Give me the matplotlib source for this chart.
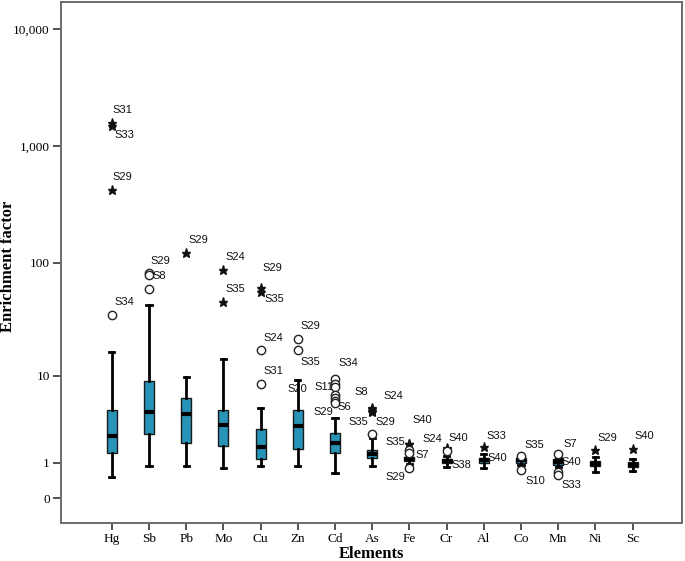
import numpy as np
import matplotlib
matplotlib.use("Agg")
import matplotlib.pyplot as plt

# ---- data ----
elements = ['Hg', 'Sb', 'Pb', 'Mo', 'Cu', 'Zn', 'Cd', 'As', 'Fe', 'Cr', 'Al', 'Co', 'Mn', 'Ni', 'Sc']
whislo = [0.52, 0.88, 0.88, 0.82, 0.86, 0.86, 0.63, 0.89, 0.96, 0.83, 0.81, 0.93, 0.83, 0.68, 0.69]
q1     = [1.43, 2.50, 1.96, 1.76, 1.14, 1.64, 1.43, 1.18, 1.05, 0.98, 0.97, 1.00, 0.93, 0.87, 0.855]
med    = [2.39, 4.39, 4.18, 3.23, 1.71, 3.07, 1.92, 1.38, 1.13, 1.06, 1.09, 1.09, 1.02, 0.96, 0.93]
q3     = [4.60, 8.85, 6.10, 4.60, 2.86, 4.65, 2.59, 1.58, 1.23, 1.16, 1.21, 1.19, 1.13, 1.05, 1.02]
whishi = [16.7, 42.8, 9.70, 14.2, 4.83, 9.18, 3.79, 2.22, 1.35, 1.30, 1.35, 1.26, 1.19, 1.23, 1.16]

# outliers: element, value, kind ('o' mild, '*' extreme, '' hidden), case label
out_elem = ['Hg', 'Hg', 'Hg', 'Hg', 'Sb', 'Sb', 'Sb', 'Pb', 'Mo', 'Mo', 'Cu', 'Cu', 'Cu', 'Cu',
            'Zn', 'Zn', 'Zn', 'Cd', 'Cd', 'Cd', 'Cd', 'Cd', 'Cd', 'Cd', 'As', 'As', 'As', 'As', 'As',
            'Fe', 'Fe', 'Fe', 'Fe', 'Fe', 'Cr', 'Cr', 'Cr', 'Cr', 'Al', 'Al', 'Co', 'Co',
            'Mn', 'Mn', 'Mn', 'Mn', 'Ni', 'Sc']
out_val = [1560, 1480, 418, 35.5, 81, 79, 60, 121, 86.5, 45.7, 60.9, 55.8, 17.2, 8.41,
           21.6, 17.2, 9.3, 9.38, 8.41, 7.80, 6.58, 6.09, 5.65, 5.5, 4.9, 4.76, 4.5, 4.39, 2.51,
           1.90, 1.88, 1.58, 1.41, 0.795, 1.66, 1.64, 1.51, 1.09, 1.71, 1.20, 1.30, 0.716,
           1.38, 1.02, 0.68, 0.586, 1.59, 1.63]
out_kind = ['*', '*', '*', 'o', 'o', 'o', 'o', '*', '*', '*', '*', '*', 'o', 'o',
            'o', 'o', '', 'o', 'o', 'o', 'o', 'o', 'o', 'o', '*', '*', '*', '*', 'o',
            '*', '*', 'o', 'o', 'o', '*', '*', 'o', '', '*', '', 'o', 'o',
            'o', '', 'o', 'o', '*', '*']
out_label = ['S31', 'S33', 'S29', 'S34', 'S29', 'S8', '', 'S29', 'S24', 'S35', 'S29', 'S35', 'S24', 'S31',
             'S29', 'S35', 'S20', 'S34', 'S11', '', '', '', 'S6', 'S29', 'S8', 'S24', 'S35', 'S29', '',
             'S40', 'S35', '', 'S7', 'S29', 'S24', 'S40', '', 'S38', 'S33', 'S40', 'S35', 'S10',
             'S7', 'S40', '', 'S33', 'S29', 'S40']

# label placement (pixel offsets from the marker, alignment)
lab_dx = [1, 3, 1, 3, 2, 4, 0, 2, 2, 2, 2, 4, 3, 3,
          3, 3, 0, 4, -1, 0, 0, 0, 3, -2, -4, 11, -4, 3, 0,
          3, -4, 0, 6, -4, -4, 2, 0, 5, 3, 4, 3, 4,
          5, 3, 0, 3, 2, 2]
lab_dy = [13, -9, 13, 13, 12, -1, 0, 13, 13, 13, 20, -7, 12, 13,
          13, -12, -10, 16, -3, 0, 0, 0, -6, -9, 16, 13, -11, -10, 0,
          24, 2, 0, -2, -9, 9, 11, 0, -5, 11, 0, 11, -11,
          10, 0, 0, -10, 12, 13]
lab_ha = ['left'] * len(out_label)
for i in [16]:
    lab_ha[i] = 'center'
for i in [18, 23, 24, 26, 30, 33, 34]:
    lab_ha[i] = 'right'

yticks = [0, 1, 10, 100, 1000, 10000]
ytick_labels = ['0', '1', '10', '100', '1,000', '10,000']

# ---- figure ----
fig = plt.figure(figsize=(6.85, 5.61), dpi=100)
ax = fig.add_axes([61 / 685, 38 / 561, (681.7 - 61) / 685, (523 - 2) / 561])

fwd = lambda v: np.log10(1 + np.asarray(v, dtype=float))
inv = lambda t: 10 ** np.asarray(t, dtype=float) - 1
ax.set_yscale('function', functions=(fwd, inv))

positions = np.arange(1, len(elements) + 1)
stats = []
for i, e in enumerate(elements):
    stats.append(dict(label=e, med=med[i], q1=q1[i], q3=q3[i],
                      whislo=whislo[i], whishi=whishi[i], fliers=[]))

box_color = '#2793b6'
ax.bxp(stats, positions=positions, widths=0.27, patch_artist=True, showfliers=False,
       boxprops=dict(facecolor=box_color, edgecolor='#1a1a1a', linewidth=1.0),
       medianprops=dict(color='black', linewidth=3.0, solid_capstyle='butt'),
       whiskerprops=dict(color='black', linewidth=2.0),
       capprops=dict(color='black', linewidth=2.0),
       capwidths=0.14)

pos_of = {e: p for e, p in zip(elements, positions)}
for e, v, k, lab, dx, dy, ha in zip(out_elem, out_val, out_kind, out_label, lab_dx, lab_dy, lab_ha):
    x = pos_of[e]
    if k == 'o':
        ax.plot([x], [v], marker='o', markersize=6, markerfacecolor='white',
                markeredgecolor='#222222', markeredgewidth=1.0, linestyle='none', zorder=4)
    elif k == '*':
        ax.plot([x], [v], marker='*', markersize=6.5, color='#111111',
                linestyle='none', zorder=4)
    if lab:
        ax.annotate(lab, (x, v), xytext=(dx, dy), textcoords='offset pixels',
                    ha=ha, va='center', fontsize=8, family='Liberation Sans',
                    color='#111111', zorder=5)

ax.set_xlim(-0.362, 16.317)
ax.set_ylim(inv(-0.213), inv(4.228))
ax.set_yticks(yticks)
ax.set_yticklabels(ytick_labels)
ax.yaxis.set_minor_locator(matplotlib.ticker.NullLocator())
ax.set_xticks(positions)
ax.set_xticklabels(elements)

for lab in ax.get_xticklabels() + ax.get_yticklabels():
    lab.set_family('Liberation Serif')
    lab.set_fontsize(9.5)
ax.tick_params(axis='both', direction='out', length=6, width=1.2, color='#333333', pad=2)
ax.tick_params(axis='x', length=5)

for s in ax.spines.values():
    s.set_color('#6a6a6a')
    s.set_linewidth(1.4)

ax.set_xlabel('Elements', family='Liberation Serif', fontweight='bold', fontsize=12, labelpad=1)
fig.text(8 / 685, 1 - 266.7 / 561, 'Enrichment factor', rotation=90, ha='center', va='center',
         family='Liberation Serif', fontweight='bold', fontsize=12)

fig.savefig('out.png', dpi=100)
